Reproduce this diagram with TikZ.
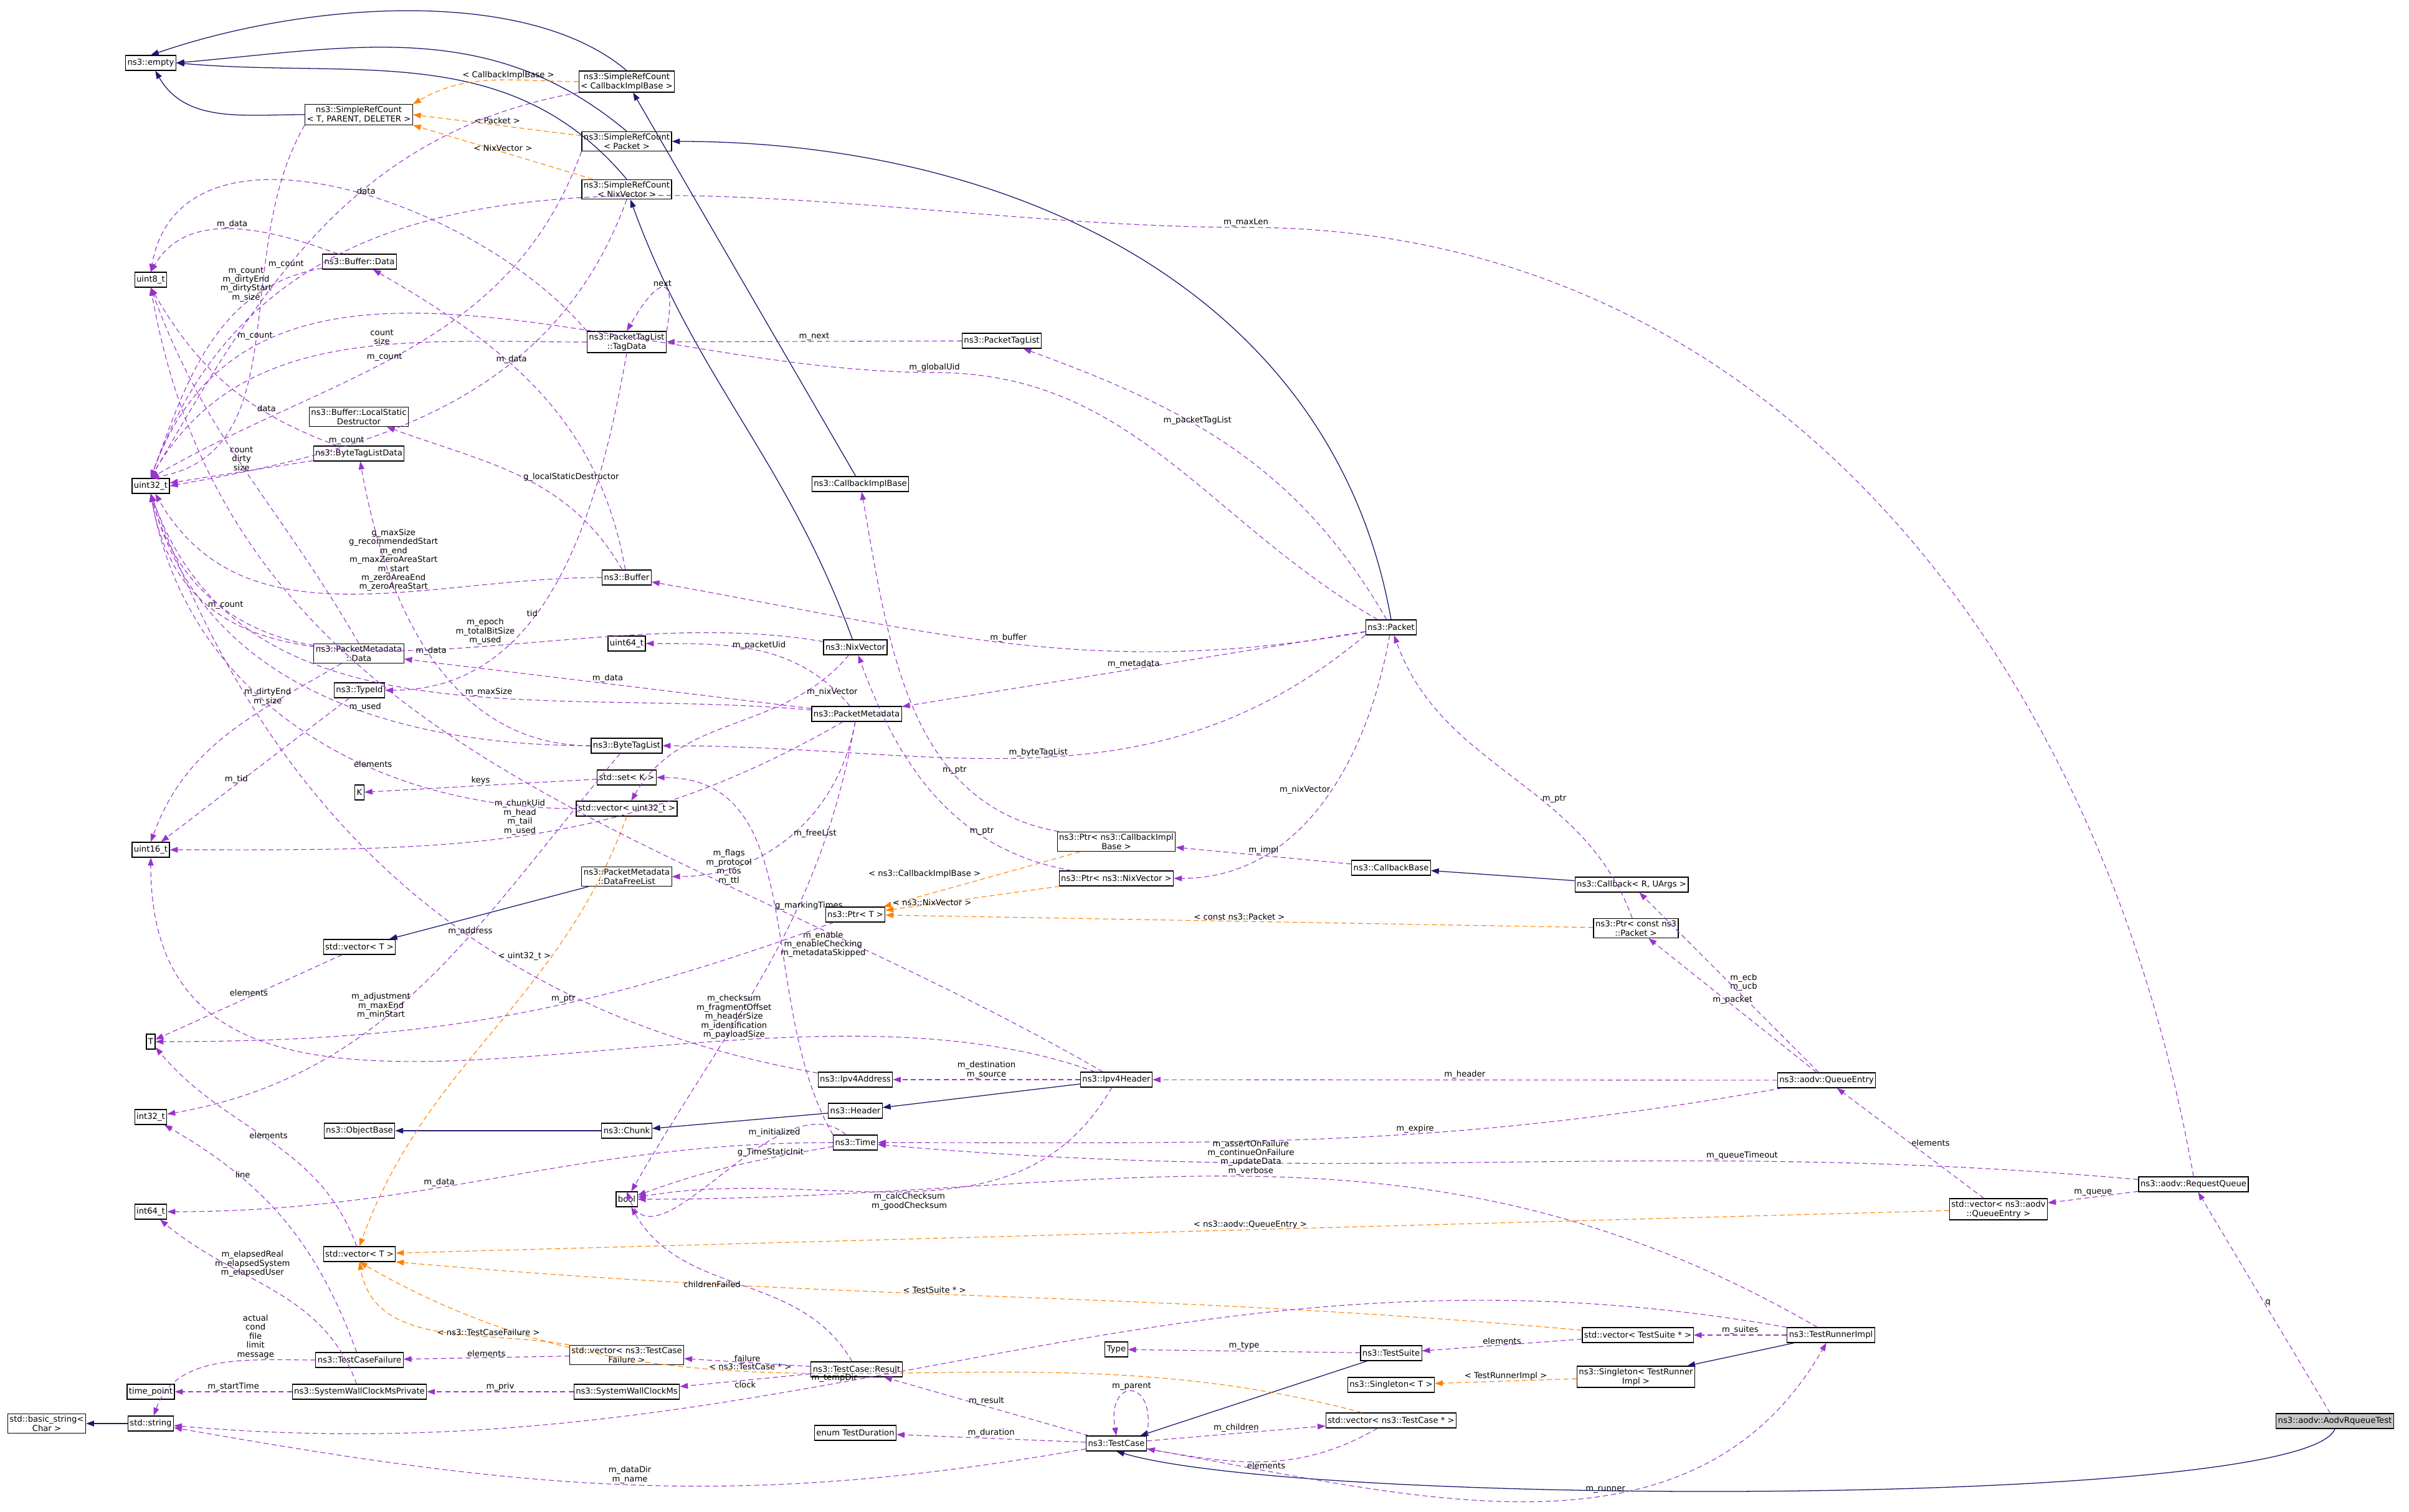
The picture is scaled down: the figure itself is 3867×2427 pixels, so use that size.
\documentclass[tikz,border=0pt]{standalone}
\usepackage{fontspec}
\setmainfont{DejaVu Sans}
\usetikzlibrary{arrows.meta}
\definecolor{dp}{HTML}{9A32CD}
\definecolor{nv}{HTML}{191970}
\begin{document}
\begin{tikzpicture}[x=0.25pt,y=-0.25pt,
 box/.style={draw=black,fill=white,font=\fontsize{3.3}{3.8}\selectfont,inner sep=0.75pt,minimum height=6pt,align=center,line width=0.3pt},
 lbl/.style={font=\fontsize{3.3}{3.6}\selectfont,align=center,inner sep=0.3pt},
 dep/.style={draw=dp,line width=0.28pt,-{Triangle[length=3.2pt,width=2.3pt]},dash pattern=on 2pt off 1.3pt},
 inh/.style={draw=nv,line width=0.32pt,-{Triangle[length=3.2pt,width=2.3pt]}},
 tpl/.style={draw=orange,line width=0.28pt,-{Triangle[length=3.2pt,width=2.3pt]},dash pattern=on 2pt off 1.3pt}]
\useasboundingbox (0,0) rectangle (3867,2427);
% nodes
\node[box] (empty) at (242,101) {ns3::empty};
\node[box] (srct) at (576,184) {ns3::SimpleRefCount\\< T, PARENT, DELETER >};
\node[box] (srcc) at (1006,131) {ns3::SimpleRefCount\\< CallbackImplBase >};
\node[box] (srcp) at (1006,227) {ns3::SimpleRefCount\\< Packet >};
\node[box] (srcn) at (1006,304) {ns3::SimpleRefCount\\< NixVector >};
\node[box] (u8) at (242,449) {uint8\_t};
\node[box] (bdata) at (577,420) {ns3::Buffer::Data};
\node[box] (tagdata) at (1006,549) {ns3::PacketTagList\\::TagData};
\node[box] (ptl) at (1608,547) {ns3::PacketTagList};
\node[box] (lsd) at (576,669) {ns3::Buffer::LocalStatic\\Destructor};
\node[box] (btld) at (576,728) {ns3::ByteTagListData};
\node[box] (u32) at (242,780) {uint32\_t};
\node[box] (cib) at (1381,777) {ns3::CallbackImplBase};
\node[box] (buffer) at (1006,927) {ns3::Buffer};
\node[box] (packet) at (2233,1007) {ns3::Packet};
\node[box] (nix) at (1373,1039) {ns3::NixVector};
\node[box] (u64) at (1006,1033) {uint64\_t};
\node[box] (pmdata) at (576,1049) {ns3::PacketMetadata\\::Data};
\node[box] (typeid) at (577,1108) {ns3::TypeId};
\node[box] (pm) at (1375,1146) {ns3::PacketMetadata};
\node[box] (btl) at (1006,1197) {ns3::ByteTagList};
\node[box] (setk) at (1006,1248) {std::set< K >};
\node[box] (K) at (577,1272) {K};
\node[box] (vu32) at (1006,1298) {std::vector< uint32\_t >};
\node[box] (u16) at (242,1364) {uint16\_t};
\node[box] (ptrcib) at (1792,1351) {ns3::Ptr< ns3::CallbackImpl\\Base >};
\node[box] (cbb) at (2233,1393) {ns3::CallbackBase};
\node[box] (dfl) at (1006,1407) {ns3::PacketMetadata\\::DataFreeList};
\node[box] (ptrnix) at (1792,1410) {ns3::Ptr< ns3::NixVector >};
\node[box] (cb) at (2619,1420) {ns3::Callback< R, UArgs >};
\node[box] (ptrt) at (1373,1468) {ns3::Ptr< T >};
\node[box] (ptrcp) at (2626,1490) {ns3::Ptr< const ns3\\::Packet >};
\node[box] (vt1) at (577,1520) {std::vector< T >};
\node[box] (T) at (242,1672) {T};
\node[box] (ipaddr) at (1373,1733) {ns3::Ipv4Address};
\node[box] (iphdr) at (1792,1733) {ns3::Ipv4Header};
\node[box] (qe) at (2932,1734) {ns3::aodv::QueueEntry};
\node[box] (header) at (1373,1783) {ns3::Header};
\node[box] (i32) at (242,1793) {int32\_t};
\node[box] (objb) at (577,1815) {ns3::ObjectBase};
\node[box] (chunk) at (1006,1815) {ns3::Chunk};
\node[box] (time) at (1373,1834) {ns3::Time};
\node[box] (rq) at (3521,1901) {ns3::aodv::RequestQueue};
\node[box] (bool) at (1006,1925) {bool};
\node[box] (vqe) at (3208,1941) {std::vector< ns3::aodv\\::QueueEntry >};
\node[box] (i64) at (242,1945) {int64\_t};
\node[box] (vt2) at (577,2013) {std::vector< T >};
\node[box] (vsuite) at (2629,2143) {std::vector< TestSuite * >};
\node[box] (tri) at (2939,2143) {ns3::TestRunnerImpl};
\node[box] (type) at (1792,2166) {Type};
\node[box] (suite) at (2233,2172) {ns3::TestSuite};
\node[box] (vtcf) at (1006,2175) {std::vector< ns3::TestCase\\Failure >};
\node[box] (tcf) at (577,2183) {ns3::TestCaseFailure};
\node[box] (result) at (1375,2198) {ns3::TestCase::Result};
\node[box] (sing) at (2626,2210) {ns3::Singleton< TestRunner\\Impl >};
\node[box] (singt) at (2233,2223) {ns3::Singleton< T >};
\node[box] (tp) at (242,2234) {time\_point};
\node[box] (swcp) at (577,2234) {ns3::SystemWallClockMsPrivate};
\node[box] (swc) at (1006,2234) {ns3::SystemWallClockMs};
\node[box] (vtc) at (2233,2280) {std::vector< ns3::TestCase * >};
\node[box,fill=gray!45] (test) at (3748,2281) {ns3::aodv::AodvRqueueTest};
\node[box] (bstr) at (75,2285) {std::basic\_string<\\Char >};
\node[box] (str) at (242,2285) {std::string};
\node[box] (dur) at (1373,2300) {enum TestDuration};
\node[box] (tc) at (1792,2317) {ns3::TestCase};
% inheritance
\draw[inh] (srct) to[out=180,in=-60] (empty);
\draw[inh] (srcc.north) .. controls (850,-20) and (500,0) .. (empty.north);
\draw[inh] (srcp.north) to[out=140,in=5] (empty.east);
\draw[inh] (srcn.north) to[out=130,in=-5] (empty.east);
\draw[inh] (cib) -- (srcc);
\draw[inh] (packet.north) to[out=100,in=0] (srcp.east);
\draw[inh] (nix) to[out=110,in=-70] (srcn);
\draw[inh] (dfl) -- (vt1);
\draw[inh] (chunk) -- (objb);
\draw[inh] (header) -- (chunk);
\draw[inh] (iphdr) -- (header);
\draw[inh] (cb) -- (cbb);
\draw[inh] (suite) -- (tc);
\draw[inh] (tri) -- (sing);
\draw[inh] (test.south) .. controls (3700,2420) and (2100,2420) .. (tc.south);
\draw[inh] (str) -- (bstr);
% templates
\draw[tpl] (srcc.west) to[out=180,in=30] node[lbl,above,pos=.4]{< CallbackImplBase >} (srct.north east);
\draw[tpl] (srcp) -- node[lbl,above]{< Packet >} (srct.east);
\draw[tpl] (srcn) -- node[lbl,above]{< NixVector >} (srct.south east);
\draw[tpl] (vu32.south) to[out=-110,in=70] node[lbl,left,pos=.3]{< uint32\_t >} (vt2.north);
\draw[tpl] (ptrcib) -- node[lbl,above left]{< ns3::CallbackImplBase >} (ptrt);
\draw[tpl] (ptrnix) -- node[lbl,below left]{< ns3::NixVector >} (ptrt);
\draw[tpl] (ptrcp) -- node[lbl,above]{< const ns3::Packet >} (ptrt);
\draw[tpl] (vqe) -- node[lbl,above,pos=.45]{< ns3::aodv::QueueEntry >} (vt2);
\draw[tpl] (vsuite) to[out=175,in=-5] node[lbl,above,pos=.55]{< TestSuite * >} (vt2.south east);
\draw[tpl] (vtc) to[out=165,in=-30] node[lbl,above,pos=.6]{< ns3::TestCase * >} (vt2.south);
\draw[tpl] (vtcf) to[out=170,in=-80] node[lbl,above,pos=.3]{< ns3::TestCaseFailure >} (vt2.south);
\draw[tpl] (sing) -- node[lbl,above]{< TestRunnerImpl >} (singt);
% dependencies
\draw[dep] (srct.south west) to[out=-120,in=10] node[lbl,above,pos=.5]{m\_count} (u32.north);
\draw[dep] (srcc.south west) to[out=190,in=60] node[lbl,above,pos=.6]{m\_count} (u32.north);
\draw[dep] (srcp.south west) to[out=-110,in=30] node[lbl,above,pos=.55]{m\_count} (u32.north);
\draw[dep] (srcn.south) to[out=-110,in=10] node[lbl,above,pos=.7]{m\_count} (u32.east);
\draw[dep] (bdata) to[out=160,in=60] node[lbl,above,pos=.5]{m\_data} (u8.north);
\draw[dep] (bdata) to[out=190,in=70] node[lbl,above,pos=.3]{m\_count\\m\_dirtyEnd\\m\_dirtyStart\\m\_size} (u32.north);
\draw[dep] (tagdata.north west) to[out=130,in=80] node[lbl,above,pos=.45]{data} (u8.north);
\draw[dep] (tagdata) to[out=180,in=60] node[lbl,above,pos=.4]{count\\size} (u32.north);
\draw[dep] (tagdata.north east) to[out=80,in=60,looseness=4] node[lbl,above]{next} (tagdata.north);
\coordinate (gu) at (1500,598);
\coordinate (ml) at (2000,365);
\draw[dep] (packet) to[out=150,in=0] (gu) to[out=180,in=70] node[lbl,above,pos=0]{m\_globalUid} (u32.north);
\draw[dep] (rq.north) to[out=100,in=0] (ml) to[out=180,in=70] node[lbl,above,pos=0]{m\_maxLen} (u32.north);
\draw[dep] (ptl) -- node[lbl,above]{m\_next} (tagdata);
\draw[dep] (packet) to[out=120,in=-20] node[lbl,above,pos=.6]{m\_packetTagList} (ptl);
\draw[dep] (btld) to[out=160,in=-60] node[lbl,above,pos=.3]{data} (u8.south);
\draw[dep] (btld) -- node[lbl,above]{count\\dirty\\size} (u32);
\draw[dep] (buffer) to[out=100,in=-30] node[lbl,above,pos=.6]{m\_data} (bdata);
\draw[dep] (buffer) to[out=120,in=-20] node[lbl,right,pos=.5]{g\_localStaticDestructor} (lsd);
\draw[dep] (buffer) to[out=180,in=-60] node[lbl,above,pos=.4]{g\_maxSize\\g\_recommendedStart\\m\_end\\m\_maxZeroAreaStart\\m\_start\\m\_zeroAreaEnd\\m\_zeroAreaStart} (u32);
\draw[dep] (nix) to[out=170,in=-80] node[lbl,above,pos=.4]{m\_epoch\\m\_totalBitSize\\m\_used} (u32.south);
\draw[dep] (nix) to[out=-130,in=60] node[lbl,right,pos=.2]{m\_nixVector} (vu32);
\draw[dep] (packet) to[out=-170,in=-10] node[lbl,above,pos=.5]{m\_buffer} (buffer);
\draw[dep] (packet) -- node[lbl,above]{m\_metadata} (pm);
\draw[dep] (packet.south west) to[out=-140,in=0] node[lbl,above,pos=.5]{m\_byteTagList} (btl);
\draw[dep] (packet) to[out=-100,in=0] node[lbl,left,pos=.45]{m\_nixVector} (ptrnix.east);
\draw[dep] (pm) to[out=130,in=0] node[lbl,above,pos=.5]{m\_packetUid} (u64);
\draw[dep] (pm) -- node[lbl,above]{m\_data} (pmdata);
\draw[dep] (pm) to[out=175,in=-70] node[lbl,above,pos=.4]{m\_maxSize} (u32.south);
\draw[dep] (pm) to[out=-150,in=0] node[lbl,above,pos=.5]{m\_chunkUid\\m\_head\\m\_tail\\m\_used} (u16);
\draw[dep] (pm) to[out=-100,in=0] node[lbl,right,pos=.5]{m\_freeList} (dfl);
\draw[dep] (pm) to[out=-100,in=60] node[lbl,right,pos=.45]{m\_enable\\m\_enableChecking\\m\_metadataSkipped} (bool);
\draw[dep] (pmdata) to[out=170,in=-75] node[lbl,above,pos=.4]{m\_count} (u32.south);
\draw[dep] (pmdata) to[out=-150,in=70] node[lbl,above,pos=.3]{m\_dirtyEnd\\m\_size} (u16.north);
\draw[dep] (pmdata.north) to[out=120,in=-70] (u8.south);
\draw[dep] (typeid) -- node[lbl,above,pos=.6]{m\_tid} (u16);
\draw[dep] (tagdata.south) to[out=-100,in=0] node[lbl,above,pos=.6]{tid} (typeid);
\draw[dep] (btl) to[out=180,in=-80] node[lbl,above,pos=.5]{m\_data} (btld);
\draw[dep] (btl) to[out=180,in=-75] node[lbl,above,pos=.4]{m\_used} (u32.south);
\draw[dep] (btl) to[out=-130,in=10] node[lbl,above,pos=.6]{m\_adjustment\\m\_maxEnd\\m\_minStart} (i32);
\draw[dep] (setk) -- node[lbl,above]{keys} (K);
\draw[dep] (vu32) to[out=180,in=-80] node[lbl,above,pos=.35]{elements} (u32.south);
\draw[dep] (vt1) -- node[lbl,above]{elements} (T);
\draw[dep] (vt2) to[out=110,in=-50] node[lbl,above,pos=.5]{elements} (T);
\draw[dep] (iphdr) to[out=150,in=-80] node[lbl,above,pos=.3]{m\_flags\\m\_protocol\\m\_tos\\m\_ttl} (u8.south);
\draw[dep] (iphdr) to[out=160,in=-90] node[lbl,above,pos=.3]{m\_checksum\\m\_fragmentOffset\\m\_headerSize\\m\_identification\\m\_payloadSize} (u16);
\draw[dep] (iphdr) -- node[lbl,above]{m\_destination\\m\_source} (ipaddr);
\draw[dep] (iphdr) to[out=-120,in=10] node[lbl,below,pos=.5]{m\_calcChecksum\\m\_goodChecksum} (bool);
\draw[dep] (ipaddr) to[out=170,in=-70] node[lbl,above,pos=.4]{m\_address} (u32.south);
\draw[dep] (ptrt) to[out=-160,in=0] node[lbl,above,pos=.4]{m\_ptr} (T);
\draw[dep] (ptrcib) to[out=170,in=-80] node[lbl,above,pos=.3]{m\_ptr} (cib);
\draw[dep] (ptrnix) to[out=170,in=-70] node[lbl,above,pos=.3]{m\_ptr} (nix);
\draw[dep] (ptrcp) to[out=110,in=-70] node[lbl,right,pos=.4]{m\_ptr} (packet);
\draw[dep] (cbb) -- node[lbl,above]{m\_impl} (ptrcib);
\draw[dep] (time) to[out=180,in=0] node[lbl,above,pos=.6]{m\_data} (i64);
\draw[dep] (time) to[out=-170,in=20] node[lbl,above,pos=.3]{g\_TimeStaticInit} (bool);
\draw[dep] (time) to[out=140,in=-70] node[lbl,above,pos=.3]{m\_initialized} (bool.north);
\draw[dep] (time.north west) to[out=120,in=0] node[lbl,right,pos=.5]{g\_markingTimes} (setk);
\draw[dep] (qe) -- node[lbl,above]{m\_header} (iphdr);
\draw[dep] (qe) to[out=-170,in=0] node[lbl,above,pos=.4]{m\_expire} (time);
\draw[dep] (qe) -- node[lbl,above]{m\_packet} (ptrcp);
\draw[dep] (qe) -- node[lbl,right]{m\_ecb\\m\_ucb} (cb);
\draw[dep] (rq) to[out=175,in=-5] node[lbl,above,pos=.3]{m\_queueTimeout} (time);
\draw[dep] (rq) -- node[lbl,above]{m\_queue} (vqe);
\draw[dep] (vqe) -- node[lbl,right]{elements} (qe);
\draw[dep] (test) -- node[lbl,right]{q} (rq);
\draw[dep] (tri) to[out=150,in=0] node[lbl,above,pos=.5]{m\_assertOnFailure\\m\_continueOnFailure\\m\_updateData\\m\_verbose} (bool);
\draw[dep] (tri) to[out=170,in=-5] node[lbl,above,pos=.6]{m\_tempDir} (str);
\draw[dep] (tri) -- node[lbl,above]{m\_suites} (vsuite);
\draw[dep] (vsuite) -- node[lbl,above]{elements} (suite);
\draw[dep] (tc) to[out=-10,in=-120] node[lbl,above,pos=.6]{m\_runner} (tri);
\draw[dep] (tc) -- node[lbl,above]{m\_children} (vtc);
\draw[dep] (vtc) to[out=-150,in=-10] node[lbl,below,pos=.5]{elements} (tc);
\draw[dep] (tc.north east) to[out=80,in=100,looseness=5] node[lbl,above]{m\_parent} (tc.north);
\draw[dep] (tc) -- node[lbl,above]{m\_duration} (dur);
\draw[dep] (tc) -- node[lbl,above]{m\_result} (result);
\draw[dep] (tc) to[out=-170,in=-10] node[lbl,above,pos=.5]{m\_dataDir\\m\_name} (str);
\draw[dep] (suite) -- node[lbl,above]{m\_type} (type);
\draw[dep] (result) to[out=120,in=-60] node[lbl,left,pos=.5]{childrenFailed} (bool);
\draw[dep] (result) -- node[lbl,above]{failure} (vtcf);
\draw[dep] (result) -- node[lbl,below]{clock} (swc);
\draw[dep] (vtcf) -- node[lbl,above]{elements} (tcf);
\draw[dep] (tcf) to[out=180,in=70] node[lbl,above left,pos=.2]{actual\\cond\\file\\limit\\message} (str);
\draw[dep] (tcf) to[out=110,in=-30] node[lbl,above,pos=.7]{line} (i32);
\draw[dep] (swc) -- node[lbl,above]{m\_priv} (swcp);
\draw[dep] (swcp) -- node[lbl,above]{m\_startTime} (tp);
\draw[dep] (swcp) to[out=110,in=-40] node[lbl,above,pos=.6]{m\_elapsedReal\\m\_elapsedSystem\\m\_elapsedUser} (i64);
\end{tikzpicture}
\end{document}
